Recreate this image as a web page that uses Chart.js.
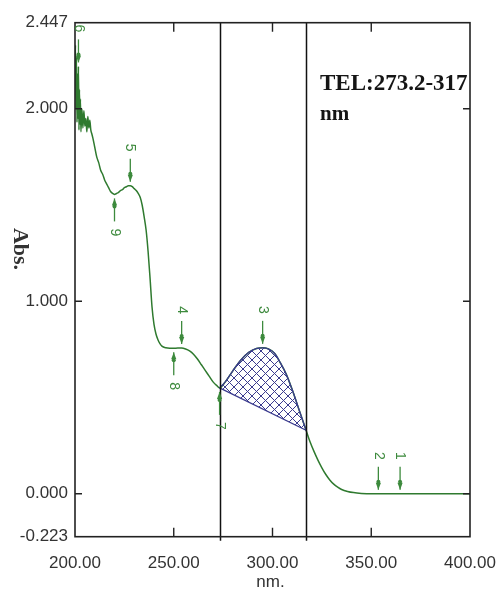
<!DOCTYPE html>
<html>
<head>
<meta charset="utf-8">
<script src="https://cdn.jsdelivr.net/npm/chart.js@4/dist/chart.umd.min.js"></script>
<style>
  html, body { margin: 0; padding: 0; background: #fff; }
  canvas { display: block; }
</style>
</head>
<body>
<canvas id="spectrum" width="496" height="590"></canvas>
<script>
// Absorption spectrum, wavelength (nm) vs absorbance
const wavelengths = [
  200, 200.25, 200.5, 200.75, 201, 201.25, 201.5, 201.75, 202, 202.25, 202.5, 202.75,
  203, 203.5, 204, 204.5, 205, 205.5, 206, 206.5, 207, 207.5, 208, 208.5, 209,
  210, 211, 212, 213, 214, 215, 216, 217, 218, 219, 220, 221, 222, 223, 224, 225,
  226, 227, 228, 229, 230, 231, 232, 233, 234, 235, 236, 237, 238, 239, 240, 241,
  242, 243, 244, 246, 248, 250, 252, 254, 256, 258, 260, 262, 264, 266, 268, 270,
  272, 273.2, 276, 280, 284, 288, 292, 295, 298, 301, 304, 307, 310, 313, 315, 317,
  319, 321, 323, 325, 327, 329, 331, 333, 335, 338, 341, 345, 350, 360, 370, 380, 390, 400
];
const absorbance = [
  2.12, 2.33, 2.00, 2.27, 1.93, 2.18, 1.95, 2.22, 1.89, 2.10, 1.92, 2.05,
  1.88, 2.00, 1.90, 1.99, 1.91, 1.95, 1.88, 1.96, 1.90, 1.94, 1.89, 1.87, 1.85,
  1.80, 1.75, 1.72, 1.68, 1.66, 1.63, 1.61, 1.59, 1.57, 1.56, 1.555, 1.56, 1.565, 1.575, 1.58, 1.59,
  1.595, 1.60, 1.60, 1.595, 1.585, 1.575, 1.56, 1.54, 1.50, 1.44, 1.37, 1.26, 1.12, 0.97, 0.88, 0.83,
  0.80, 0.78, 0.767, 0.758, 0.756, 0.756, 0.757, 0.757, 0.752, 0.742, 0.725, 0.70, 0.67, 0.64, 0.61, 0.58,
  0.56, 0.55, 0.58, 0.64, 0.695, 0.735, 0.755, 0.758, 0.752, 0.73, 0.68, 0.62, 0.54, 0.45, 0.39, 0.33,
  0.27, 0.22, 0.175, 0.135, 0.10, 0.072, 0.05, 0.034, 0.022, 0.012, 0.006, 0.002, 0.0, 0.0, 0.0, 0.0, 0.0, 0.0
];

// Axis ticks
const xTickValues = [200, 250, 300, 350, 400];
const yTickValues = [-0.223, 0, 1, 2, 2.447];
const xInnerTicks = [250, 300, 350];
const yInnerTicks = [0, 1, 2];

// Integration window and its straight baseline
const integrationLimits = [273.2, 317];
const baselineAbs = [0.55, 0.33];

// Peak / valley markers
const peakNumbers = ['1', '2', '3', '4', '5', '6', '7', '8', '9'];
const peakNm      = [364.6, 353.6, 295, 254, 228, 201.75, 273.2, 250, 220];
const peakAbs     = [0, 0, 0.758, 0.757, 1.60, 2.22, 0.55, 0.756, 1.555];
const peakSide    = ['above', 'above', 'above', 'above', 'above', 'above', 'below', 'below', 'below'];

const spectrumPoints = wavelengths.map((w, i) => ({ x: w, y: absorbance[i] }));
const windowPoints = spectrumPoints.filter(p => p.x >= integrationLimits[0] && p.x <= integrationLimits[1]);
const baselinePoints = integrationLimits.map((w, i) => ({ x: w, y: baselineAbs[i] }));

const canvas = document.getElementById('spectrum');
const ctx = canvas.getContext('2d');

function crossHatch() {
  const s = 9;
  const c = document.createElement('canvas');
  c.width = s; c.height = s;
  const g = c.getContext('2d');
  g.strokeStyle = '#3b3b8e';
  g.lineWidth = 1;
  g.beginPath();
  g.moveTo(-1, -1); g.lineTo(s + 1, s + 1);
  g.moveTo(s + 1, -1); g.lineTo(-1, s + 1);
  g.stroke();
  return ctx.createPattern(c, 'repeat');
}

const GREEN = '#2f7a2f';
const LABEL_GREEN = '#3d8a3d';
const HATCH_BLUE = '#3b3b8e';
const TICK_FONT = '17px "Liberation Sans", Arial, sans-serif';

const decorations = {
  id: 'decorations',
  afterDatasetsDraw(chart) {
    const { ctx: c, chartArea: a, scales: { x, y } } = chart;
    c.save();

    // integration limits
    c.strokeStyle = '#111';
    c.lineWidth = 1.5;
    integrationLimits.forEach(w => {
      const px = Math.round(x.getPixelForValue(w)) + 0.5;
      c.beginPath();
      c.moveTo(px, a.top);
      c.lineTo(px, a.bottom + 4);
      c.stroke();
    });

    // frame
    c.strokeStyle = '#222';
    c.lineWidth = 1.6;
    c.strokeRect(a.left, a.top, a.right - a.left, a.bottom - a.top);

    // inner tick marks on all four sides
    c.lineWidth = 1.4;
    c.beginPath();
    xInnerTicks.forEach(v => {
      const px = x.getPixelForValue(v);
      c.moveTo(px, a.bottom); c.lineTo(px, a.bottom - 9);
      c.moveTo(px, a.top); c.lineTo(px, a.top + 9);
    });
    yInnerTicks.forEach(v => {
      const py = y.getPixelForValue(v);
      c.moveTo(a.left, py); c.lineTo(a.left + 7, py);
      c.moveTo(a.right, py); c.lineTo(a.right - 7, py);
    });
    c.stroke();

    // peak markers: arrow plus rotated number
    c.fillStyle = LABEL_GREEN;
    c.strokeStyle = LABEL_GREEN;
    c.lineWidth = 1.3;
    c.font = '14px "Liberation Sans", Arial, sans-serif';
    c.textAlign = 'center';
    c.textBaseline = 'middle';
    peakNumbers.forEach((label, i) => {
      const px = x.getPixelForValue(peakNm[i]);
      const tip = y.getPixelForValue(peakAbs[i]);
      const s = peakSide[i] === 'above' ? -1 : 1;
      const tipY = tip + s * 4;
      c.beginPath();
      c.moveTo(px, tip + s * 27);
      c.lineTo(px, tipY);
      c.stroke();
      c.beginPath();
      c.moveTo(px, tipY);
      c.lineTo(px - 2.6, tipY + s * 7);
      c.lineTo(px + 2.6, tipY + s * 7);
      c.closePath();
      c.fill();
      c.beginPath();
      c.arc(px, tipY + s * 8, 2, 0, Math.PI * 2);
      c.fill();
      c.save();
      c.translate(px, tip + s * 38);
      c.rotate(Math.PI / 2);
      c.fillText(label, 0, 0);
      c.restore();
    });

    // axis titles
    c.fillStyle = '#333';
    c.font = TICK_FONT;
    c.textAlign = 'center';
    c.textBaseline = 'middle';
    c.fillText('nm.', (a.left + a.right) / 2 - 2, 582);

    c.save();
    c.translate(20, 249);
    c.rotate(Math.PI / 2);
    c.font = 'bold 22px "Liberation Serif", "Times New Roman", serif';
    c.fillText('Abs.', 0, 0);
    c.restore();

    // window annotation
    c.fillStyle = '#151515';
    c.textAlign = 'left';
    c.font = 'bold 23px "Liberation Serif", "Times New Roman", serif';
    c.fillText('TEL:273.2-317', 320, 84);
    c.font = 'bold 21px "Liberation Serif", "Times New Roman", serif';
    c.fillText('nm', 320, 115);

    c.restore();
  }
};

new Chart(ctx, {
  type: 'line',
  data: {
    datasets: [
      {
        label: 'spectrum',
        data: spectrumPoints,
        borderColor: GREEN,
        borderWidth: 1.5,
        pointRadius: 0,
        cubicInterpolationMode: 'monotone',
        fill: false,
        order: 3
      },
      {
        label: 'window',
        data: windowPoints,
        borderColor: HATCH_BLUE,
        borderWidth: 1.3,
        pointRadius: 0,
        cubicInterpolationMode: 'monotone',
        backgroundColor: crossHatch(),
        fill: '+1',
        order: 1
      },
      {
        label: 'baseline',
        data: baselinePoints,
        borderColor: HATCH_BLUE,
        borderWidth: 1.3,
        pointRadius: 0,
        fill: false,
        order: 2
      }
    ]
  },
  options: {
    responsive: false,
    animation: false,
    layout: { padding: { left: 0, right: 26, top: 22.7, bottom: 0 } },
    plugins: { legend: { display: false }, tooltip: { enabled: false } },
    scales: {
      x: {
        type: 'linear',
        min: 200,
        max: 400,
        grid: { display: false, drawTicks: false },
        border: { display: false },
        afterBuildTicks: s => { s.ticks = xTickValues.map(v => ({ value: v })); },
        afterFit: s => { s.height = 53.3; s.paddingLeft = 0; s.paddingRight = 0; },
        ticks: {
          autoSkip: false,
          maxRotation: 0,
          padding: 16,
          color: '#333',
          font: { family: '"Liberation Sans", Arial, sans-serif', size: 17 },
          callback: v => Number(v).toFixed(2)
        }
      },
      y: {
        type: 'linear',
        min: -0.223,
        max: 2.447,
        grid: { display: false, drawTicks: false },
        border: { display: false },
        afterBuildTicks: s => { s.ticks = yTickValues.map(v => ({ value: v })); },
        afterFit: s => { s.width = 75; s.paddingTop = 0; s.paddingBottom = 0; },
        ticks: {
          autoSkip: false,
          padding: 7,
          color: '#333',
          font: { family: '"Liberation Sans", Arial, sans-serif', size: 17 },
          callback: v => Number(v).toFixed(3)
        }
      }
    }
  },
  plugins: [decorations]
});
</script>
</body>
</html>
